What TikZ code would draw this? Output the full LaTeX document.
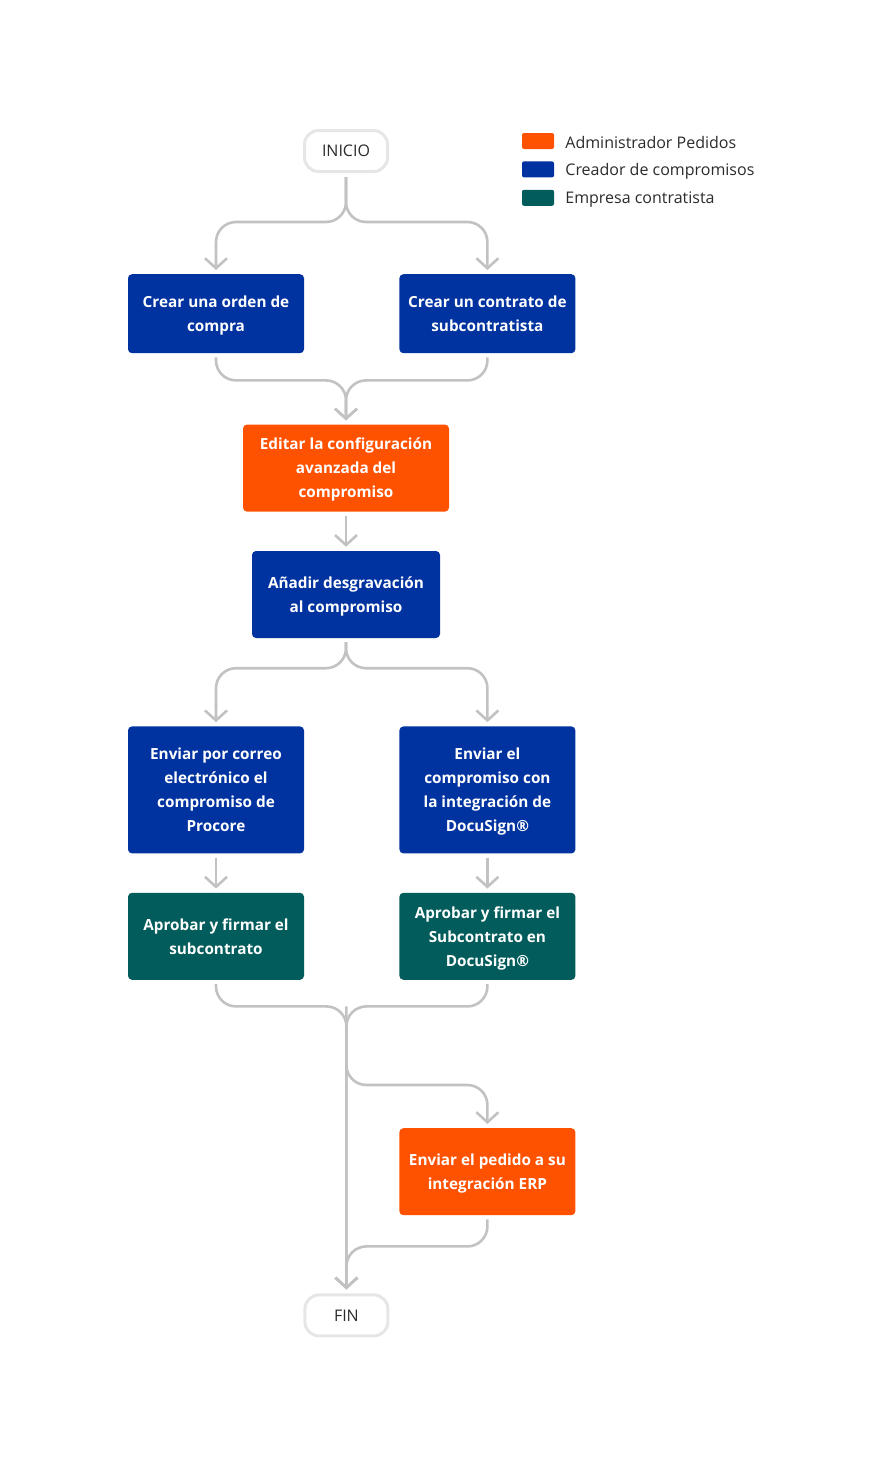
\documentclass[tikz,border=0pt]{standalone}
\usepackage{fontspec}
\setmainfont{Open Sans}
\usetikzlibrary{positioning, arrows.meta}
\definecolor{admorange}{HTML}{FF5200}
\definecolor{crablue}{HTML}{0033A0}
\definecolor{contgreen}{HTML}{025C5C}
\definecolor{linegray}{HTML}{C2C2C2}
\definecolor{termgray}{HTML}{E6E6E6}
\definecolor{txtgray}{HTML}{2B2B2B}
\tikzset{
  % role boxes
  task/.style={rounded corners=4pt, minimum width=176pt, minimum height=87pt,
    align=center, text=white, font=\fontsize{15.3}{24}\selectfont\bfseries, inner sep=0pt,
    text depth=-8pt},
  adm/.style={task, fill=admorange},
  cre/.style={task, fill=crablue},
  emp/.style={task, fill=contgreen},
  term/.style={draw=termgray, line width=3pt, rounded corners=14pt, fill=white,
    minimum width=83pt, minimum height=41pt, text=txtgray, font=\fontsize{16}{18}\selectfont},
  key/.style={rounded corners=2pt, minimum width=32pt, minimum height=16pt, inner sep=0pt},
  keytext/.style={text=txtgray, font=\fontsize{16}{18}\selectfont, inner sep=0pt, yshift=-1.5pt},
  flow/.style={draw=linegray, line width=2.6pt, rounded corners=20pt,
    -{Straight Barb[length=10pt, width=22pt]}, shorten <=4pt, shorten >=4pt}
}

\begin{document}
\begin{tikzpicture}[x=1pt, y=-1pt]
  \useasboundingbox (0,0) rectangle (882,1464);

  \node[term] (inicio) at (346,151) {INICIO};

  % legend
  \node[key, fill=admorange] (keyadm) at (538,141) {};
  \node[key, fill=crablue, below=12pt of keyadm] (keycre) {};
  \node[key, fill=contgreen, below=12pt of keycre] (keyemp) {};
  \node[keytext, right=11pt of keyadm] {Administrador Pedidos};
  \node[keytext, right=11pt of keycre] {Creador de compromisos};
  \node[keytext, right=11pt of keyemp] {Empresa contratista};

  \node[cre, minimum height=79pt, below=101pt of inicio, xshift=-130pt] (orden) {Crear una orden de\\compra};
  \node[cre, minimum height=79pt, right=95pt of orden] (contrato) {Crear un contrato de\\subcontratista};
  \node[adm, minimum width=206pt, below=71pt of orden, xshift=130pt] (editar) {Editar la configuración\\avanzada del\\compromiso};
  \node[cre, minimum width=188pt, below=39pt of editar] (anadir) {Añadir desgravación\\al compromiso};
  \node[cre, minimum height=127pt, below=88pt of anadir, xshift=-130pt] (correo) {Enviar por correo\\electrónico el\\compromiso de\\Procore};
  \node[cre, minimum height=127pt, right=95pt of correo] (docusign) {Enviar el\\compromiso con\\la integración de\\DocuSign®};
  \node[emp, below=39pt of correo] (aprobar) {Aprobar y firmar el\\subcontrato};
  \node[emp, below=39pt of docusign] (aprobards) {Aprobar y firmar el\\Subcontrato en\\DocuSign®};
  \node[adm, below=148pt of aprobards] (erp) {Enviar el pedido a su\\integración ERP};
  \node[term, below=78pt of erp, xshift=-141pt] (fin) {FIN};

  \coordinate[below=49pt of inicio] (split1);
  \coordinate[above=44pt of editar] (merge1);
  \coordinate[below=30pt of anadir] (split2);
  \coordinate[above=287pt of fin] (merge2);
  \coordinate[above=43pt of erp] (branch);
  \coordinate[above=47pt of fin] (merge3);

  \draw[flow] (inicio) -- (split1) -| (orden);
  \draw[flow] (inicio) -- (split1) -| (contrato);
  \draw[flow] (orden) |- (merge1) -- (editar);
  \draw[flow] (contrato) |- (merge1) -- (editar);
  \draw[flow] (editar) -- (anadir);
  \draw[flow] (anadir) -- (split2) -| (correo);
  \draw[flow] (anadir) -- (split2) -| (docusign);
  \draw[flow] (correo) -- (aprobar);
  \draw[flow] (docusign) -- (aprobards);
  \draw[flow] (aprobar) |- (merge2) -- (fin);
  \draw[flow] (aprobards) |- (merge2) -- (fin);
  \draw[flow, shorten <=0pt] (merge2) |- (branch) -- (erp);
  \draw[flow] (erp) |- (merge3) -- (fin);
\end{tikzpicture}
\end{document}
